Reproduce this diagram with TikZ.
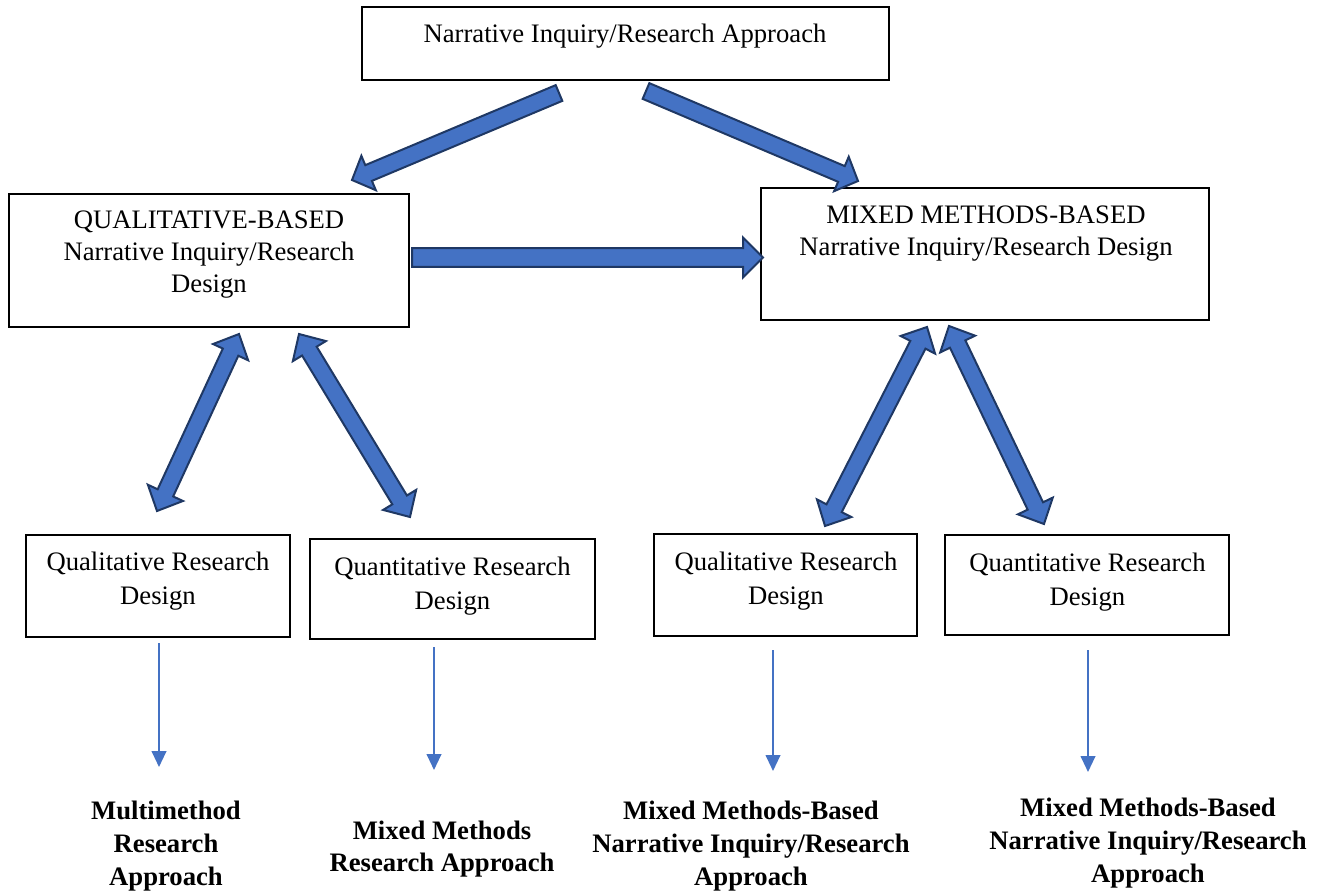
\documentclass[tikz,border=0pt]{standalone}
\usepackage{fontspec}
\setmainfont{Liberation Serif}
\usetikzlibrary{arrows.meta,calc}
\definecolor{arrowblue}{HTML}{4472C4}
\definecolor{arrowedge}{HTML}{1F3864}

\tikzset{
  box/.style={draw=black, line width=1pt, inner sep=0pt, outer sep=0pt, fill=white},
  sz/.style 2 args={minimum width={#1*0.75pt}, minimum height={#2*0.75pt}},
  lbl/.style={align=center, inner sep=0pt, font=\fontsize{20}{24}\selectfont},
  lbllow/.style={align=center, inner sep=0pt, font=\fontsize{20}{25.5}\selectfont},
  res/.style={align=center, inner sep=0pt, font=\bfseries\fontsize{20}{24.5}\selectfont},
  barrow/.style={fill=arrowblue, draw=arrowedge, line width=1.5pt, line join=miter},
  flow/.style={draw=arrowblue, line width=1.5pt, -{Triangle[width=11pt,length=12pt]}},
}

% block arrow from #1 to #2: shaft half-width #3, head half-width #4, head length #5
\newcommand\singleblock[5]{%
  \path[barrow] let \p1=(#1), \p2=(#2),
    \n1={atan2(\y2-\y1,\x2-\x1)},
    \n2={veclen(\x2-\x1,\y2-\y1)} in
    [shift={(\p1)}, rotate=\n1]
    (0pt,-#3) -- ({\n2*1pt-#5},-#3) -- ({\n2*1pt-#5},-#4) -- ({\n2*1pt},0pt)
    -- ({\n2*1pt-#5},#4) -- ({\n2*1pt-#5},#3) -- (0pt,#3) -- cycle;}
% block arrow with heads at both ends
\newcommand\doubleblock[5]{%
  \path[barrow] let \p1=(#1), \p2=(#2),
    \n1={atan2(\y2-\y1,\x2-\x1)},
    \n2={veclen(\x2-\x1,\y2-\y1)} in
    [shift={(\p1)}, rotate=\n1]
    (0pt,0pt) -- (#5,#4) -- (#5,#3) -- ({\n2*1pt-#5},#3) -- ({\n2*1pt-#5},#4)
    -- ({\n2*1pt},0pt) -- ({\n2*1pt-#5},-#4) -- ({\n2*1pt-#5},-#3)
    -- (#5,-#3) -- (#5,-#4) -- cycle;}

\begin{document}
\begin{tikzpicture}[x=0.75pt,y=-0.75pt]
\useasboundingbox (0,0) rectangle (1326,890);

% boxes
\node[box, sz={527}{73}]  (top) at (625.5,43.5) {};
\node[box, sz={400}{133}] (qb)  at (209,260.5) {};
\node[box, sz={448}{132}] (mb)  at (985,254) {};
\node[box, sz={264}{102}] (b1)  at (158,586) {};
\node[box, sz={285}{100}] (b2)  at (452.5,589) {};
\node[box, sz={263}{102}] (b3)  at (785.5,585) {};
\node[box, sz={284}{100}] (b4)  at (1087,585) {};

% box texts
\node[lbl] (ttop) at (625,36) {Narrative Inquiry/Research Approach};
\node[lbl] (tqb) at (209,254.5) {QUALITATIVE-BASED\\Narrative Inquiry/Research\\Design};
\node[lbl] (tmb) at (986,234) {MIXED METHODS-BASED\\Narrative Inquiry/Research Design};
\node[lbllow] (tb1) at (158,581.5) {Qualitative Research\\Design};
\node[lbllow] (tb2) at (452.5,586.5) {Quantitative Research\\Design};
\node[lbllow] (tb3) at (786,581.5) {Qualitative Research\\Design};
\node[lbllow] (tb4) at (1087.5,582.5) {Quantitative Research\\Design};

% resulting approaches
\node[res] (r1) at (166,846) {Multimethod\\Research\\Approach};
\node[res] (r2) at (442,849) {Mixed Methods\\Research Approach};
\node[res] (r3) at (751,846) {Mixed Methods-Based\\Narrative Inquiry/Research\\Approach};
\node[res] (r4) at (1148,843) {Mixed Methods-Based\\Narrative Inquiry/Research\\Approach};

% block arrow end points
\coordinate (a1s) at (559,93);    \coordinate (a1e) at (352,180);
\coordinate (a2s) at (646,91);    \coordinate (a2e) at (858,181);
\coordinate (a3s) at (412,257.5); \coordinate (a3e) at (763,257.5);
\coordinate (l1s) at (239,334);   \coordinate (l1e) at (157,511);
\coordinate (l2s) at (299,334);   \coordinate (l2e) at (410,517);
\coordinate (m1s) at (927,327);   \coordinate (m1e) at (825,526);
\coordinate (m2s) at (949,326);   \coordinate (m2e) at (1044,524);

\singleblock{a1s}{a1e}{6.4pt}{14pt}{13.5pt}
\singleblock{a2s}{a2e}{6.4pt}{14pt}{13.5pt}
\singleblock{a3s}{a3e}{7.1pt}{15pt}{15pt}
\doubleblock{l1s}{l1e}{6.4pt}{14.5pt}{15pt}
\doubleblock{l2s}{l2e}{6.4pt}{14.5pt}{15pt}
\doubleblock{m1s}{m1e}{6.4pt}{14.5pt}{15pt}
\doubleblock{m2s}{m2e}{6.4pt}{14.5pt}{15pt}

% thin arrows towards the approaches
\coordinate (f1s) at (159,643);  \coordinate (f1e) at (159,767);
\coordinate (f2s) at (434,647);  \coordinate (f2e) at (434,770);
\coordinate (f3s) at (773,650);  \coordinate (f3e) at (773,771);
\coordinate (f4s) at (1088,650); \coordinate (f4e) at (1088,772);
\draw[flow] (f1s) -- (f1e);
\draw[flow] (f2s) -- (f2e);
\draw[flow] (f3s) -- (f3e);
\draw[flow] (f4s) -- (f4e);
\end{tikzpicture}
\end{document}
